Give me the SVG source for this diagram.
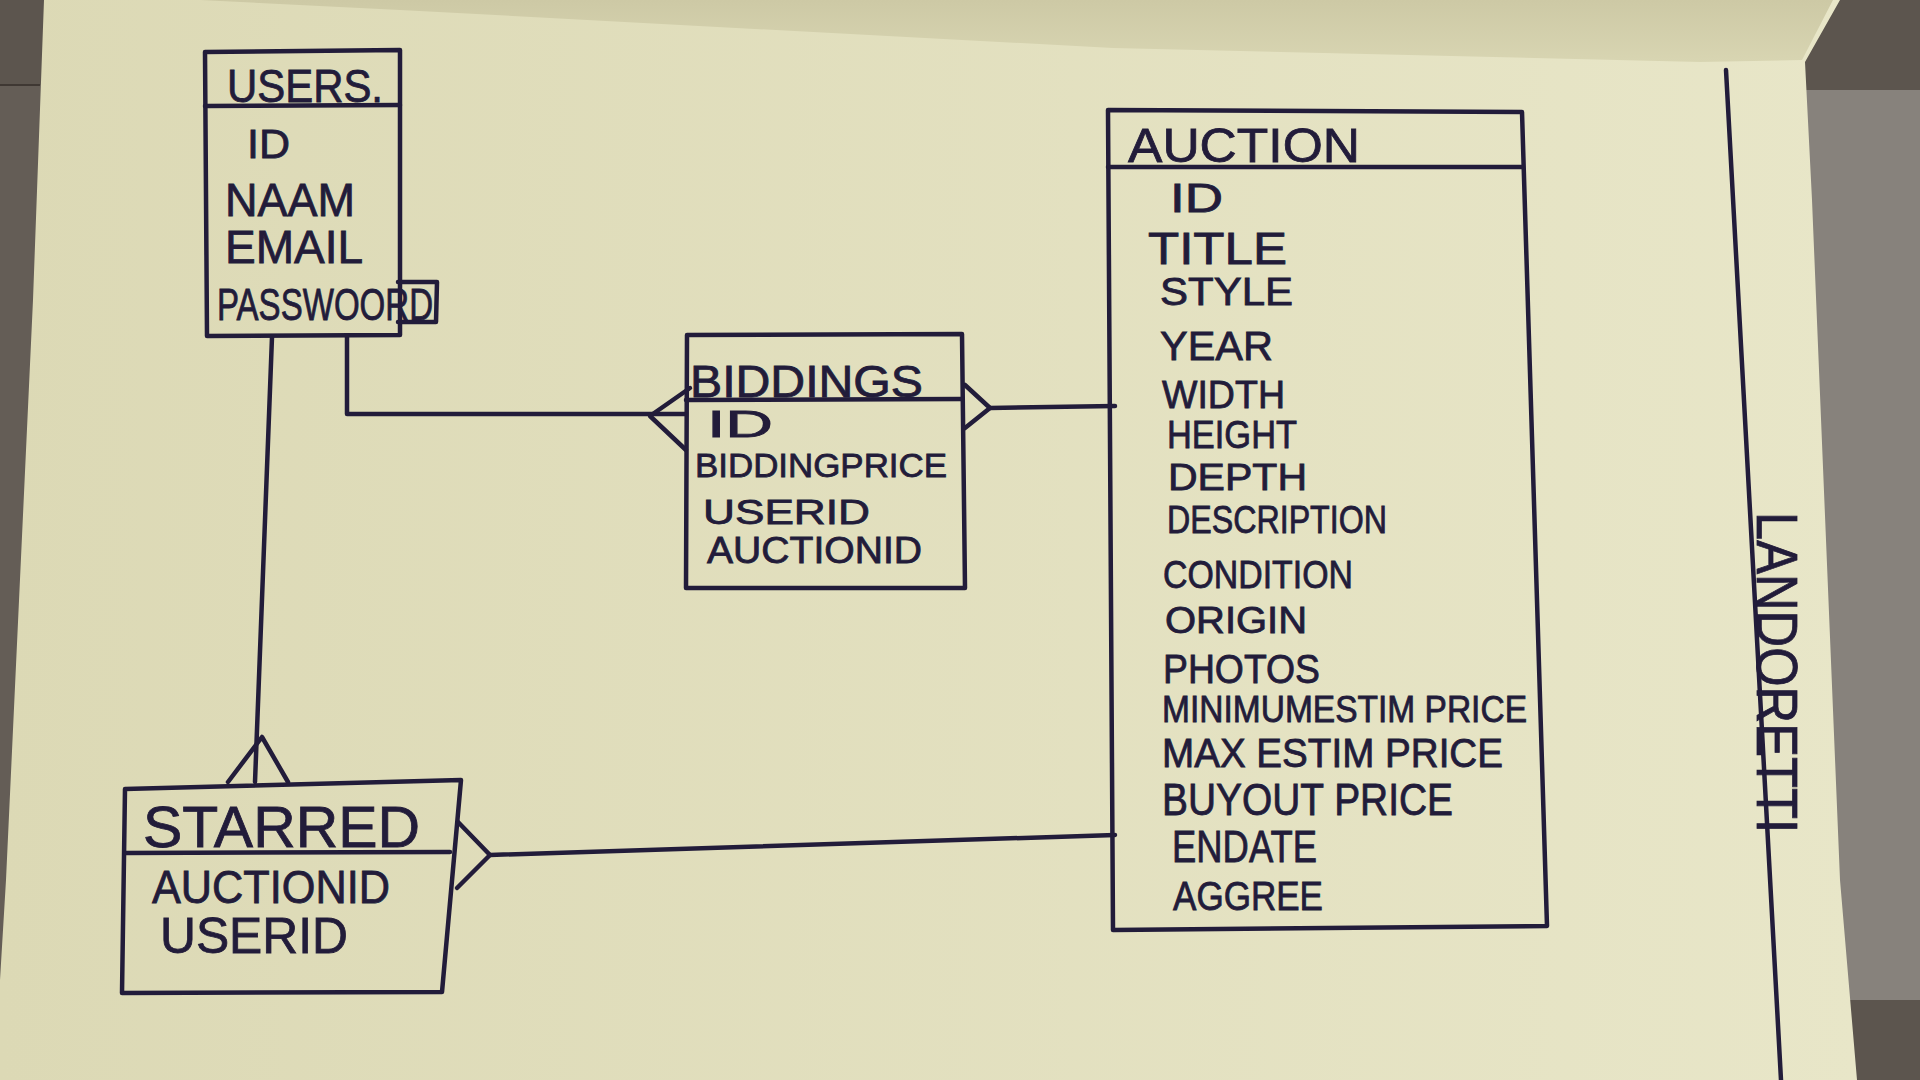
<svg xmlns="http://www.w3.org/2000/svg" width="1920" height="1080" viewBox="0 0 1920 1080">
<defs>
<linearGradient id="paper" x1="0" y1="0" x2="1" y2="0">
<stop offset="0" stop-color="#dcd9b5"/>
<stop offset="1" stop-color="#e8e6c8"/>
</linearGradient>
<linearGradient id="upper" x1="0" y1="0" x2="0" y2="1">
<stop offset="0" stop-color="#cdc9a5"/>
<stop offset="1" stop-color="#d8d5b2"/>
</linearGradient>
<style>
.ink{fill:none;stroke:#221c3a;stroke-width:4.5;stroke-linecap:round;stroke-linejoin:round}
.t{font-family:"Liberation Sans","DejaVu Sans",sans-serif;fill:#221c3a;stroke:#221c3a;stroke-width:0.8}
</style>
</defs>
<rect x="0" y="0" width="1920" height="1080" fill="#5c554e"/>
<rect x="1800" y="90" width="120" height="910" fill="#87827c"/>
<rect x="0" y="85" width="45" height="900" fill="#645d56"/>
<line x1="0" y1="85" x2="40" y2="85" stroke="#3f3833" stroke-width="2"/>
<polygon points="44,0 1840,0 1805,62 1812,200 1840,880 1857,1080 0,1080 0,980 6,880 33,300" fill="url(#paper)"/>
<polygon points="150,0 1833,0 1802,60 1700,62 1113,48 400,10 200,0" fill="url(#upper)"/>
<path class="ink" d="M1726,70 L1781,1080" stroke-width="4"/>
<text class="t" font-size="58" transform="translate(1757,512) rotate(90)" textLength="321" lengthAdjust="spacingAndGlyphs" fill="#2a2350">LANDORETTI</text>

<g id="connectors">
<path class="ink" d="M272,337 L255,782"/>
<path class="ink" d="M228,782 L262,737 L288,782"/>
<path class="ink" d="M347,337 L347,414 L686,414"/>
<path class="ink" d="M690,388 L650,416 L686,450"/>
<path class="ink" d="M965,385 L990,408 L965,428"/>
<path class="ink" d="M990,408 L1115,406"/>
<path class="ink" d="M458,822 L490,855 L457,888"/>
<path class="ink" d="M490,855 L1115,835"/>
</g>

<g id="users">
<path class="ink" d="M205,52 L400,50 L400,335 L207,336 Z"/>
<path class="ink" d="M205,106 L400,105"/>
<path class="ink" d="M398,282 L437,282 L436,322 L398,322"/>
<text class="t" x="227" y="102" font-size="46" textLength="156" lengthAdjust="spacingAndGlyphs">USERS.</text>
<text class="t" x="247" y="158" font-size="40" textLength="43" lengthAdjust="spacingAndGlyphs">ID</text>
<text class="t" x="225" y="216" font-size="46" textLength="130" lengthAdjust="spacingAndGlyphs">NAAM</text>
<text class="t" x="225" y="263" font-size="46" textLength="138" lengthAdjust="spacingAndGlyphs">EMAIL</text>
<text class="t" x="217" y="320" font-size="44" textLength="216" lengthAdjust="spacingAndGlyphs">PASSWOORD</text>
</g>

<g id="biddings">
<path class="ink" d="M687,335 L962,334 L965,588 L686,588 Z"/>
<path class="ink" d="M686,400 L962,399"/>
<text class="t" x="690" y="397" font-size="44" textLength="233" lengthAdjust="spacingAndGlyphs">BIDDINGS</text>
<text class="t" x="707" y="437" font-size="36" textLength="66" lengthAdjust="spacingAndGlyphs">ID</text>
<text class="t" x="695" y="477" font-size="34" textLength="252" lengthAdjust="spacingAndGlyphs">BIDDINGPRICE</text>
<text class="t" x="703" y="524" font-size="35" textLength="167" lengthAdjust="spacingAndGlyphs">USERID</text>
<text class="t" x="707" y="563" font-size="36" textLength="215" lengthAdjust="spacingAndGlyphs">AUCTIONID</text>
</g>

<g id="auction">
<path class="ink" d="M1108,110 L1522,112 L1547,926 L1113,930 Z"/>
<path class="ink" d="M1108,167 L1522,167"/>
<text class="t" x="1128" y="162" font-size="49" textLength="232" lengthAdjust="spacingAndGlyphs">AUCTION</text>
<text class="t" x="1170" y="212" font-size="40" textLength="53" lengthAdjust="spacingAndGlyphs">ID</text>
<text class="t" x="1148" y="264" font-size="44" textLength="139" lengthAdjust="spacingAndGlyphs">TITLE</text>
<text class="t" x="1160" y="305" font-size="38" textLength="133" lengthAdjust="spacingAndGlyphs">STYLE</text>
<text class="t" x="1160" y="360" font-size="41" textLength="113" lengthAdjust="spacingAndGlyphs">YEAR</text>
<text class="t" x="1162" y="408" font-size="38" textLength="123" lengthAdjust="spacingAndGlyphs">WIDTH</text>
<text class="t" x="1167" y="448" font-size="38" textLength="130" lengthAdjust="spacingAndGlyphs">HEIGHT</text>
<text class="t" x="1168" y="490" font-size="37" textLength="139" lengthAdjust="spacingAndGlyphs">DEPTH</text>
<text class="t" x="1167" y="533" font-size="38" textLength="220" lengthAdjust="spacingAndGlyphs">DESCRIPTION</text>
<text class="t" x="1163" y="588" font-size="38" textLength="190" lengthAdjust="spacingAndGlyphs">CONDITION</text>
<text class="t" x="1165" y="633" font-size="36" textLength="142" lengthAdjust="spacingAndGlyphs">ORIGIN</text>
<text class="t" x="1163" y="683" font-size="40" textLength="157" lengthAdjust="spacingAndGlyphs">PHOTOS</text>
<text class="t" x="1162" y="722" font-size="36" textLength="365" lengthAdjust="spacingAndGlyphs">MINIMUMESTIM PRICE</text>
<text class="t" x="1162" y="767" font-size="40" textLength="341" lengthAdjust="spacingAndGlyphs">MAX ESTIM PRICE</text>
<text class="t" x="1162" y="815" font-size="44" textLength="291" lengthAdjust="spacingAndGlyphs">BUYOUT PRICE</text>
<text class="t" x="1172" y="862" font-size="44" textLength="145" lengthAdjust="spacingAndGlyphs">ENDATE</text>
<text class="t" x="1173" y="910" font-size="41" textLength="150" lengthAdjust="spacingAndGlyphs">AGGREE</text>
</g>

<g id="starred">
<path class="ink" d="M125,789 L461,780 L442,992 L122,993 Z"/>
<path class="ink" d="M125,853 L450,852"/>
<text class="t" x="143" y="847" font-size="58" textLength="277" lengthAdjust="spacingAndGlyphs">STARRED</text>
<text class="t" x="152" y="903" font-size="46" textLength="238" lengthAdjust="spacingAndGlyphs">AUCTIONID</text>
<text class="t" x="160" y="953" font-size="50" textLength="188" lengthAdjust="spacingAndGlyphs">USERID</text>
</g>
</svg>
